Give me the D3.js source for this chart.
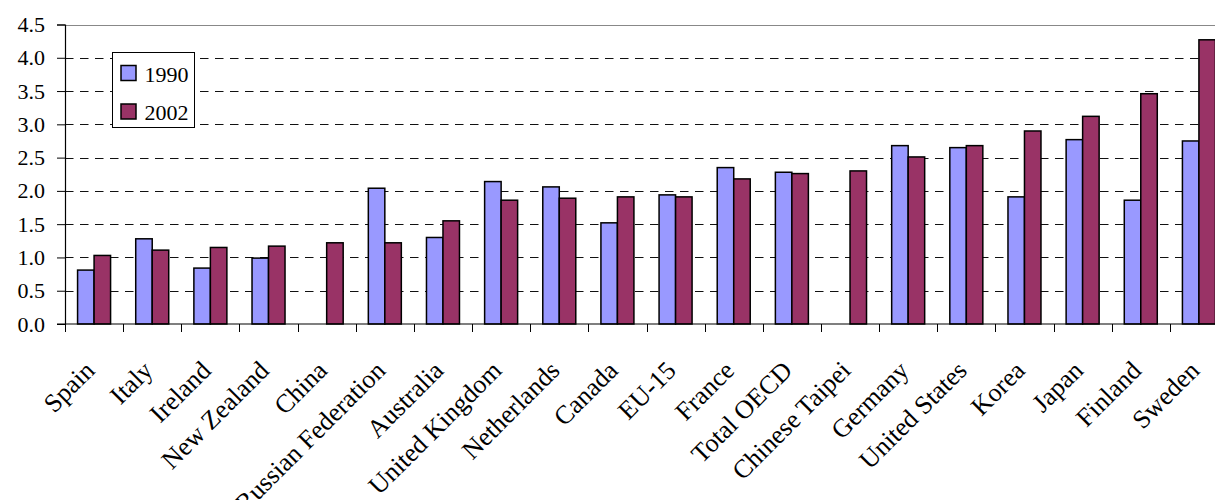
<!DOCTYPE html>
<html>
<head>
<meta charset="utf-8">
<script src="https://cdn.jsdelivr.net/npm/d3@7"></script>
<style>
  html, body { margin: 0; padding: 0; background: #fff; }
  svg { display: block; }
  text { font-family: "Liberation Serif", "Times New Roman", serif; fill: #000; }
</style>
</head>
<body>
<svg id="chart" width="1215" height="500"></svg>
<script>
// Categories along the x axis
const countries = ["Spain", "Italy", "Ireland", "New Zealand", "China", "Russian Federation",
  "Australia", "United Kingdom", "Netherlands", "Canada", "EU-15", "France", "Total OECD",
  "Chinese Taipei", "Germany", "United States", "Korea", "Japan", "Finland", "Sweden"];

// Series values (null = no data)
const values1990 = [0.81, 1.28, 0.84, 0.99, null, 2.04, 1.30, 2.14, 2.06, 1.52, 1.94, 2.35,
  2.28, null, 2.68, 2.65, 1.91, 2.77, 1.86, 2.75];
const values2002 = [1.03, 1.11, 1.15, 1.17, 1.22, 1.22, 1.55, 1.86, 1.89, 1.91, 1.91, 2.18,
  2.26, 2.30, 2.51, 2.68, 2.90, 3.12, 3.46, 4.27];

const seriesNames = ["1990", "2002"];
const seriesColors = ["#9999FF", "#993366"];

// Y axis tick labels
const yTicks = [0, 0.5, 1.0, 1.5, 2.0, 2.5, 3.0, 3.5, 4.0, 4.5];

const svg = d3.select("#chart");

const plotLeft = 65, plotTop = 24.5, plotBottom = 324;
const band = 58.15;
const plotRight = plotLeft + band * countries.length;

const x = d3.scaleBand().domain(countries).range([plotLeft, plotRight]).paddingInner(0).paddingOuter(0);
const barW = 16.5;
const xs = d3.scaleBand().domain(seriesNames)
  .range([x.bandwidth() / 2 - barW, x.bandwidth() / 2 + barW]);
const y = d3.scaleLinear().domain([0, 4.5]).range([plotBottom, plotTop]);

// Dashed gridlines
const grid = svg.append("g");
grid.selectAll("line.grid")
  .data(yTicks.filter(d => d > 0 && d < 4.5))
  .join("line")
  .attr("x1", plotLeft).attr("x2", plotRight)
  .attr("y1", d => Math.round(y(d)) + 0.5).attr("y2", d => Math.round(y(d)) + 0.5)
  .attr("stroke", "#111").attr("stroke-width", 1.1)
  .attr("stroke-dasharray", "8.5,6.5");
// Top border of the plot area
grid.append("line")
  .attr("x1", plotLeft).attr("x2", plotRight)
  .attr("y1", Math.round(y(4.5)) + 0.5).attr("y2", Math.round(y(4.5)) + 0.5)
  .attr("stroke", "#888").attr("stroke-width", 1.2);

// Bars
const data = [values1990, values2002];
seriesNames.forEach((name, si) => {
  svg.append("g")
    .selectAll("rect")
    .data(countries.map((c, i) => ({ c, v: data[si][i] })).filter(d => d.v != null))
    .join("rect")
    .attr("x", d => x(d.c) + xs(name))
    .attr("y", d => y(d.v))
    .attr("width", xs.bandwidth())
    .attr("height", d => y(0) - y(d.v))
    .attr("fill", seriesColors[si])
    .attr("stroke", "#000")
    .attr("stroke-width", 1.5);
});

// Y axis
const yAxis = d3.axisLeft(y).tickValues(yTicks).tickFormat(d3.format(".1f"))
  .tickSize(8).tickPadding(12);
const gy = svg.append("g").attr("transform", `translate(${plotLeft},0)`).call(yAxis);
gy.select(".domain").attr("stroke", "#000").attr("stroke-width", 1.2);
gy.selectAll(".tick line").attr("stroke", "#000");
gy.selectAll(".tick text")
  .style("font-family", "'Liberation Serif', serif")
  .style("font-size", "22px")
  .attr("fill", "#000");

// X axis with ticks at band boundaries
const gx = svg.append("g").attr("transform", `translate(0,${plotBottom})`);
gx.append("line").attr("x1", plotLeft - 8).attr("x2", plotRight).attr("y1", 0).attr("y2", 0)
  .attr("stroke", "#000").attr("stroke-width", 1.2);
gx.selectAll("line.tk")
  .data(countries)
  .join("line")
  .attr("x1", d => Math.round(x(d)) + 0.5).attr("x2", d => Math.round(x(d)) + 0.5)
  .attr("y1", 0).attr("y2", 8)
  .attr("stroke", "#000");

// Rotated category labels
gx.selectAll("text.lbl")
  .data(countries)
  .join("text")
  .attr("class", "lbl")
  .attr("transform", d => `translate(${x(d) + x.bandwidth() / 2 + 2},${48}) rotate(-45)`)
  .attr("text-anchor", "end")
  .style("font-size", "26px")
  .text(d => d);

// Legend
const lg = svg.append("g").attr("transform", "translate(112.5,52.5)");
lg.append("rect").attr("width", 82).attr("height", 75)
  .attr("fill", "#fff").attr("stroke", "#000").attr("stroke-width", 1);
seriesNames.forEach((name, i) => {
  lg.append("rect").attr("x", 8.5).attr("y", 13 + i * 38.5).attr("width", 15).attr("height", 15)
    .attr("fill", seriesColors[i]).attr("stroke", "#000").attr("stroke-width", 1.5);
  lg.append("text").attr("x", 32).attr("y", 29 + i * 38.5)
    .style("font-size", "22px").text(name);
});
</script>
</body>
</html>
